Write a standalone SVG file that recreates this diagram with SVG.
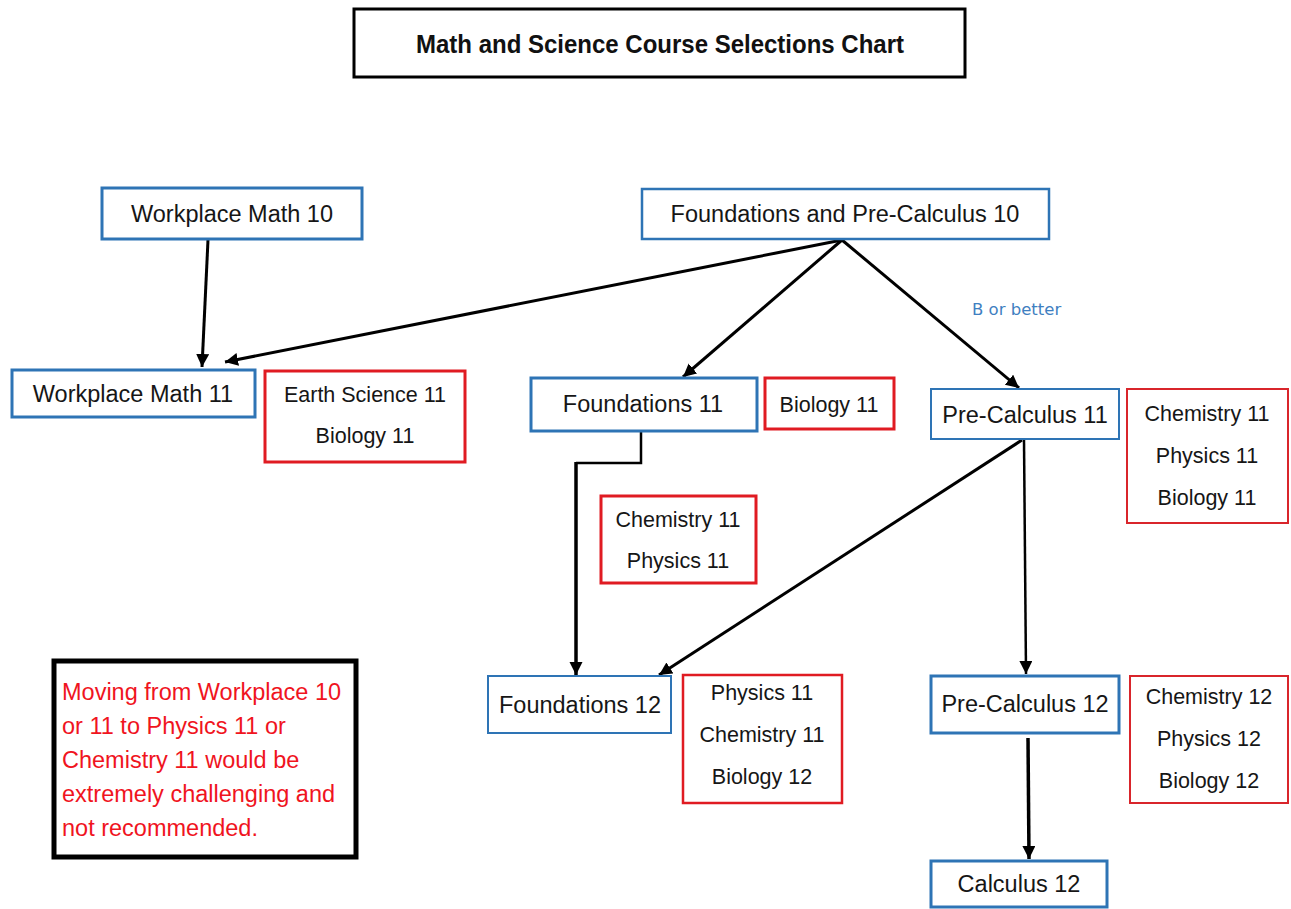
<svg xmlns="http://www.w3.org/2000/svg" width="1291" height="909" viewBox="0 0 1291 909">
<style>
.bg{fill:#ffffff}
.blue{fill:#ffffff;stroke:#2e74b5;stroke-width:3}
.bluet{fill:#ffffff;stroke:#2e74b5;stroke-width:2}
.red{fill:#ffffff;stroke:#e01b22;stroke-width:3}
.redt{fill:#ffffff;stroke:#d9252b;stroke-width:2}
.t{font-family:"Liberation Sans",Arial,sans-serif;font-size:23.5px;fill:#161616;text-anchor:middle}
.s{font-family:"Liberation Sans",Arial,sans-serif;font-size:21.5px;fill:#161616;text-anchor:middle}
.note{font-family:"Liberation Sans",Arial,sans-serif;font-size:23.5px;fill:#f0141e}
.title{font-family:"Liberation Sans",Arial,sans-serif;font-size:25px;font-weight:bold;fill:#111;text-anchor:middle}
.lbl{font-family:"DejaVu Sans",Verdana,sans-serif;font-size:16.5px;fill:#3f7fc1}
.c{fill:none;stroke:#000;stroke-width:3;marker-end:url(#ah)}
</style>
<defs>
<marker id="ah" markerUnits="userSpaceOnUse" markerWidth="15" markerHeight="15" refX="13" refY="6.5" orient="auto">
<path d="M0,0 L13,6.5 L0,13 z" fill="#000"/>
</marker>
</defs>
<rect class="bg" x="0" y="0" width="1291" height="909"/>

<g id="title">
<rect x="354" y="9" width="611" height="68" fill="#fff" stroke="#000" stroke-width="3"/>
<text class="title" x="660" y="53" textLength="488" lengthAdjust="spacingAndGlyphs">Math and Science Course Selections Chart</text>
</g>

<g id="connectors">
<path class="c" d="M208,240 L202,367"/>
<path class="c" d="M842,240 L225,362"/>
<path class="c" d="M842,240 L683,377"/>
<path class="c" d="M842,240 L1019,388"/>
<path d="M641,431 L641,463 L576,463" fill="none" stroke="#000" stroke-width="2.5"/>
<path class="c" d="M576,462 L576,675" style="stroke-width:3.5"/>
<path class="c" d="M1022,440 L659,675"/>
<path class="c" d="M1024,440 L1026,674" style="stroke-width:2.5"/>
<path class="c" d="M1028,738 L1029,859" style="stroke-width:3.5"/>
</g>

<g id="label-b-or-better">
<text class="lbl" x="972" y="315">B or better</text>
</g>

<g id="workplace-math-10">
<rect class="blue" x="102" y="188" width="260" height="51"/>
<text class="t" x="232" y="222">Workplace Math 10</text>
</g>

<g id="foundations-precalc-10">
<rect class="blue" x="642" y="189" width="407" height="50" style="stroke-width:2.5"/>
<text class="t" x="845" y="222">Foundations and Pre-Calculus 10</text>
</g>

<g id="workplace-math-11">
<rect class="blue" x="12" y="370" width="243" height="47"/>
<text class="t" x="133" y="402">Workplace Math 11</text>
</g>

<g id="sci-workplace-11">
<rect class="red" x="265" y="371" width="200" height="91"/>
<text class="s" x="365" y="402">Earth Science 11</text>
<text class="s" x="365" y="443">Biology 11</text>
</g>

<g id="foundations-11">
<rect class="blue" x="531" y="378" width="226" height="53"/>
<text class="t" x="643" y="412">Foundations 11</text>
</g>

<g id="sci-foundations-11">
<rect class="red" x="765" y="378" width="129" height="51"/>
<text class="s" x="829" y="412">Biology 11</text>
</g>

<g id="precalc-11">
<rect class="bluet" x="931" y="389" width="188" height="50"/>
<text class="t" x="1025" y="423">Pre-Calculus 11</text>
</g>

<g id="sci-precalc-11">
<rect class="redt" x="1127" y="389" width="161" height="134"/>
<text class="s" x="1207" y="421">Chemistry 11</text>
<text class="s" x="1207" y="463">Physics 11</text>
<text class="s" x="1207" y="505">Biology 11</text>
</g>

<g id="sci-foundations-11b">
<rect class="red" x="601" y="496" width="155" height="87"/>
<text class="s" x="678" y="527">Chemistry 11</text>
<text class="s" x="678" y="568">Physics 11</text>
</g>

<g id="foundations-12">
<rect class="bluet" x="488" y="676" width="183" height="57"/>
<text class="t" x="580" y="713">Foundations 12</text>
</g>

<g id="sci-foundations-12">
<rect class="red" x="683" y="675" width="159" height="128" style="stroke-width:2.5"/>
<text class="s" x="762" y="700">Physics 11</text>
<text class="s" x="762" y="742">Chemistry 11</text>
<text class="s" x="762" y="784">Biology 12</text>
</g>

<g id="precalc-12">
<rect class="blue" x="931" y="676" width="188" height="57"/>
<text class="t" x="1025" y="712">Pre-Calculus 12</text>
</g>

<g id="sci-precalc-12">
<rect class="redt" x="1130" y="676" width="158" height="127"/>
<text class="s" x="1209" y="704">Chemistry 12</text>
<text class="s" x="1209" y="746">Physics 12</text>
<text class="s" x="1209" y="788">Biology 12</text>
</g>

<g id="calculus-12">
<rect class="blue" x="931" y="861" width="176" height="46"/>
<text class="t" x="1019" y="892">Calculus 12</text>
</g>

<g id="note">
<rect x="54" y="661" width="302" height="196" fill="#fff" stroke="#000" stroke-width="5"/>
<text class="note" x="62" y="700">Moving from Workplace 10</text>
<text class="note" x="62" y="734">or 11 to Physics 11 or</text>
<text class="note" x="62" y="768">Chemistry 11 would be</text>
<text class="note" x="62" y="802">extremely challenging and</text>
<text class="note" x="62" y="836">not recommended.</text>
</g>
</svg>
